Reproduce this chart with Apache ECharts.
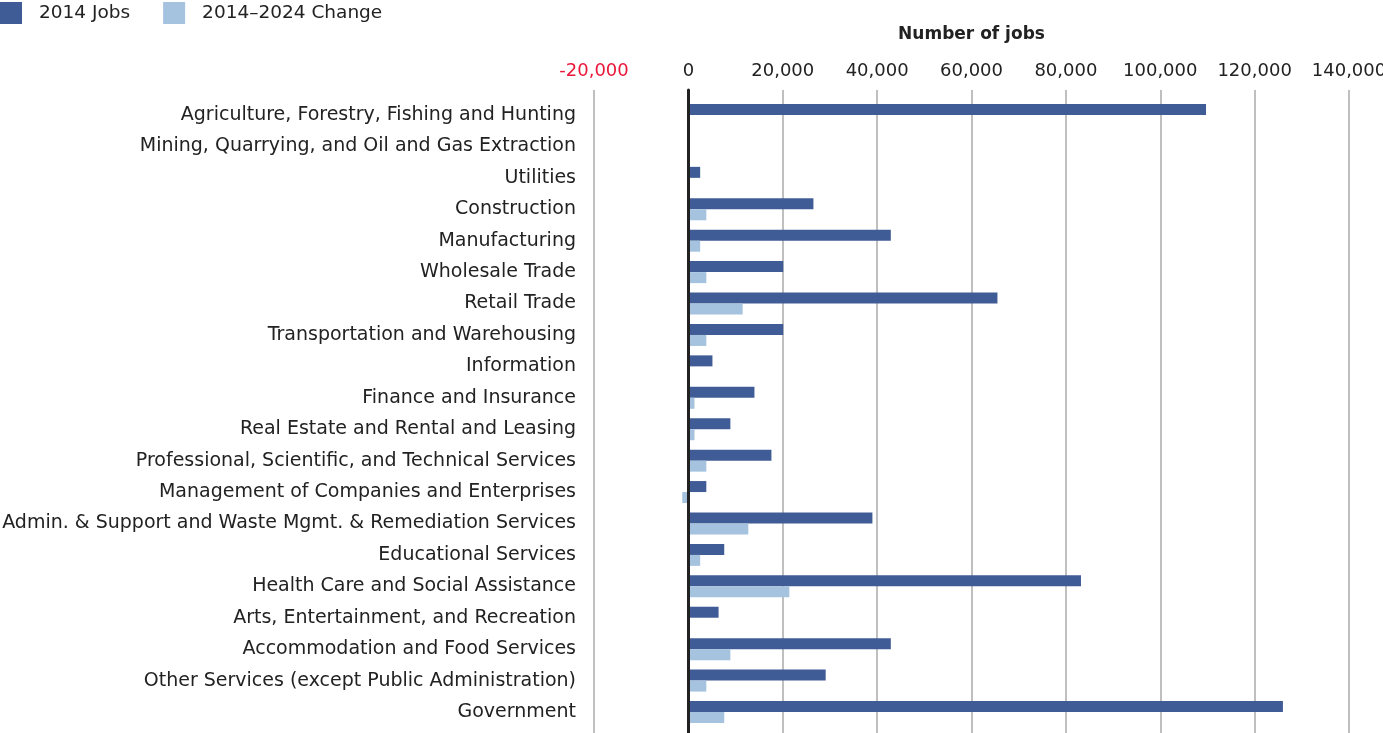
<!DOCTYPE html>
<html>
<head>
<meta charset="utf-8">
<script src="https://cdn.jsdelivr.net/npm/echarts@6/dist/echarts.min.js"></script>
<style>html,body{margin:0;padding:0;background:#fff}#c{width:1383px;height:733px}</style>
</head>
<body>
<div id="c"></div>
<script>
const categories = [
  "Agriculture, Forestry, Fishing and Hunting",
  "Mining, Quarrying, and Oil and Gas Extraction",
  "Utilities",
  "Construction",
  "Manufacturing",
  "Wholesale Trade",
  "Retail Trade",
  "Transportation and Warehousing",
  "Information",
  "Finance and Insurance",
  "Real Estate and Rental and Leasing",
  "Professional, Scientific, and Technical Services",
  "Management of Companies and Enterprises",
  "Admin. & Support and Waste Mgmt. & Remediation Services",
  "Educational Services",
  "Health Care and Social Assistance",
  "Arts, Entertainment, and Recreation",
  "Accommodation and Food Services",
  "Other Services (except Public Administration)",
  "Government"
];
const jobs2014 = [109700, 0, 2500, 26500, 42900, 20100, 65500, 20100, 5100, 14000, 8900, 17600, 3800, 39000, 7600, 83200, 6400, 42900, 29100, 126000];
const change2014_2024 = [0, 0, 0, 3800, 2500, 3800, 11500, 3800, 0, 1300, 1300, 3800, -1300, 12700, 2500, 21400, 0, 8900, 3800, 7600];
const xTicks = [-20000, 0, 20000, 40000, 60000, 80000, 100000, 120000, 140000];
const seriesNames = ["2014 Jobs", "2014\u20132024 Change"];

const FONT = '"DejaVu Sans", sans-serif';
const xMin = xTicks[0], xMax = xTicks[xTicks.length - 1], xStep = xTicks[1] - xTicks[0];
const fmt = v => {
  const s = Math.abs(v).toLocaleString('en-US');
  return v < 0 ? '{neg|-' + s + '}' : '{pos|' + s + '}';
};

const chart = echarts.init(document.getElementById('c'));
chart.setOption({
  animation: false,
  textStyle: { fontFamily: FONT },
  legend: {
    left: 0, top: 2, padding: 0, itemWidth: 22, itemHeight: 22, itemGap: 33,
    icon: 'rect',
    textStyle: { fontFamily: FONT, fontSize: 18.5, color: '#222', padding: [0, 0, 0, 12] },
    data: seriesNames
  },
  grid: [
    { left: 594, right: 34, top: 99.3, bottom: 5.3, outerBoundsMode: 'none', containLabel: false },
    { left: 594, right: 34, top: 90, bottom: 0, outerBoundsMode: 'none', containLabel: false }
  ],
  xAxis: [
    { gridIndex: 0, type: 'value', min: xMin, max: xMax, interval: xStep,
      axisLabel: { show: false }, splitLine: { show: false }, axisLine: { show: false }, axisTick: { show: false } },
    { gridIndex: 1, type: 'value', position: 'top', min: xMin, max: xMax, interval: xStep,
      name: 'Number of jobs', nameLocation: 'middle', nameGap: 47,
      nameTextStyle: { fontFamily: FONT, fontSize: 17, fontWeight: 'bold', color: '#222' },
      axisLabel: { margin: 10, fontSize: 18, formatter: fmt, hideOverlap: false,
        rich: { neg: { color: '#e8173b', fontSize: 18, fontFamily: FONT }, pos: { color: '#222', fontSize: 18, fontFamily: FONT } } },
      splitLine: { show: true, lineStyle: { color: '#aaa', width: 1.5 } },
      axisLine: { show: false }, axisTick: { show: false } }
  ],
  yAxis: [
    { gridIndex: 0, type: 'category', inverse: true, data: categories,
      axisLine: { show: false, onZero: false }, axisTick: { show: false },
      axisLabel: { margin: 18, fontSize: 19, color: '#222', fontFamily: FONT, padding: [3, 0, 0, 0] } },
    { gridIndex: 1, type: 'value', z: 5, min: 0, max: 1,
      axisLine: { show: true, onZero: true, lineStyle: { color: '#222', width: 3 } },
      axisLabel: { show: false }, axisTick: { show: false }, splitLine: { show: false } }
  ],
  series: [
    { name: seriesNames[0], type: 'bar', xAxisIndex: 0, yAxisIndex: 0, data: jobs2014,
      barWidth: 11, barGap: '0%', itemStyle: { color: '#405c96' } },
    { name: seriesNames[1], type: 'bar', xAxisIndex: 0, yAxisIndex: 0, data: change2014_2024,
      barWidth: 11, barGap: '0%', itemStyle: { color: '#a5c2df' } }
  ]
});
</script>
</body>
</html>
